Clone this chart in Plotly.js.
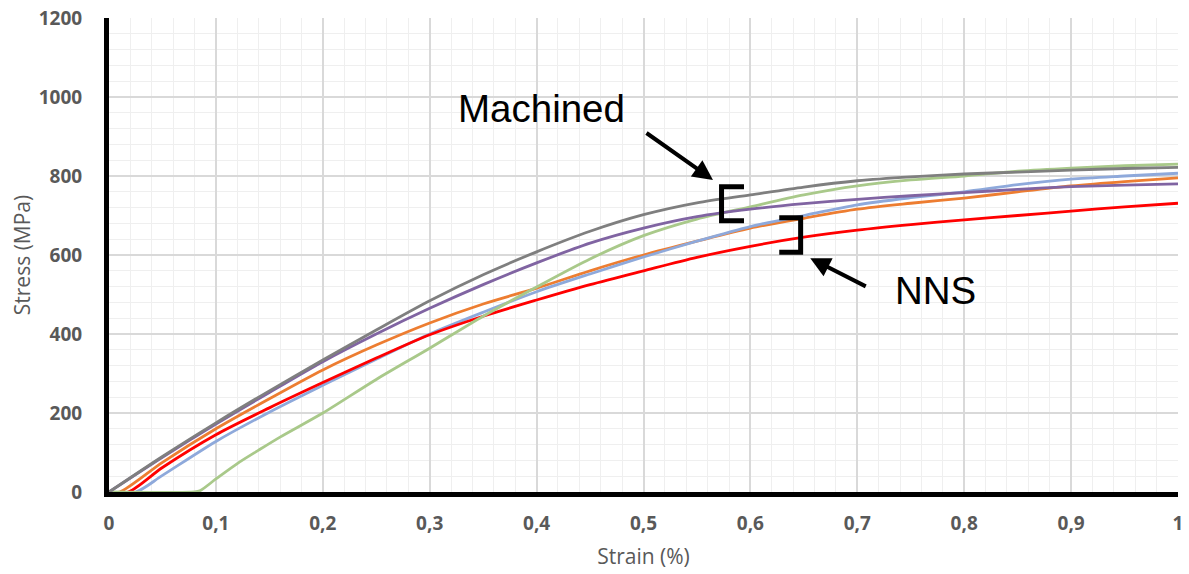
<!DOCTYPE html>
<html>
<head>
<meta charset="utf-8">
<script src="https://cdn.plot.ly/plotly-3.0.1.min.js"></script>
<style>html,body{margin:0;padding:0;background:#fff;}#chart{width:1189px;height:574px;}</style>
</head>
<body>
<div id="chart"></div>
<script>
// ---- Data ----
const grayStrain   = [0, 0.05, 0.1, 0.15, 0.2, 0.25, 0.3, 0.35, 0.4, 0.45, 0.5, 0.55, 0.6, 0.65, 0.7, 0.75, 0.8, 0.85, 0.9, 0.95, 1.0];
const grayStress   = [0, 90, 175, 256, 334, 410, 484, 550, 608, 660, 702, 732, 752, 772, 788, 798, 805, 810, 815, 819, 822];

const purpleStrain = [0, 0.05, 0.1, 0.15, 0.2, 0.25, 0.3, 0.35, 0.4, 0.45, 0.5, 0.55, 0.6, 0.65, 0.7, 0.75, 0.8, 0.85, 0.9, 0.95, 1.0];
const purpleStress = [0, 88, 172, 252, 330, 400, 465, 525, 580, 630, 668, 697, 716, 730, 741, 750, 758, 766, 773, 777, 780];

const greenStrain  = [0, 0.08, 0.085, 0.1, 0.12, 0.14, 0.16, 0.2, 0.25, 0.3, 0.35, 0.4, 0.45, 0.5, 0.55, 0.6, 0.65, 0.7, 0.75, 0.8, 0.85, 0.9, 0.95, 1.0];
const greenStress  = [0, 0, 3, 33, 72, 106, 139, 200, 285, 364, 445, 519, 590, 649, 691, 722, 752, 775, 790, 800, 812, 820, 826, 830];

const orangeStrain = [0, 0.01, 0.05, 0.1, 0.15, 0.2, 0.25, 0.3, 0.35, 0.4, 0.45, 0.5, 0.55, 0.6, 0.65, 0.7, 0.75, 0.8, 0.85, 0.9, 0.95, 1.0];
const orangeStress = [0, 0, 75, 160, 236, 309, 372, 428, 476, 516, 560, 600, 635, 668, 693, 716, 731, 744, 760, 775, 786, 795];

const blueStrain   = [0, 0.025, 0.05, 0.1, 0.15, 0.2, 0.25, 0.3, 0.35, 0.4, 0.45, 0.5, 0.55, 0.6, 0.65, 0.7, 0.75, 0.8, 0.85, 0.9, 0.95, 1.0];
const blueStress   = [0, 0, 42, 128, 202, 270, 336, 400, 455, 507, 552, 595, 635, 672, 700, 727, 745, 760, 778, 792, 800, 807];

const redStrain    = [0, 0.018, 0.05, 0.1, 0.15, 0.2, 0.25, 0.3, 0.35, 0.4, 0.45, 0.5, 0.55, 0.6, 0.65, 0.7, 0.75, 0.8, 0.85, 0.9, 0.95, 1.0];
const redStress    = [0, 0, 62, 145, 213, 277, 339, 398, 445, 486, 525, 560, 594, 622, 645, 663, 677, 689, 700, 711, 722, 731];

const xTickVals = [0, 0.1, 0.2, 0.3, 0.4, 0.5, 0.6, 0.7, 0.8, 0.9, 1];
const xTickText = ["0", "0,1", "0,2", "0,3", "0,4", "0,5", "0,6", "0,7", "0,8", "0,9", "1"];
const yTickVals = [0, 200, 400, 600, 800, 1000, 1200];
const yTickText = ["0", "200", "400", "600", "800", "1000", "1200"];

// ---- Traces ----
function tr(x, y, color) {
  return {x: x, y: y, type: 'scatter', mode: 'lines',
          line: {color: color, width: 2.8, shape: 'spline', smoothing: 0.8},
          hoverinfo: 'skip', showlegend: false};
}
const traces = [
  tr(orangeStrain, orangeStress, '#ED7D31'),
  tr(blueStrain, blueStress, '#8EA9DB'),
  tr(redStrain, redStress, '#FF0000'),
  tr(greenStrain, greenStress, '#A9C98A'),
  tr(purpleStrain, purpleStress, '#8064A2'),
  tr(grayStrain, grayStress, '#7F7F7F')
];

const tickFont = {family: 'Open Sans, sans-serif', size: 19, color: '#595959', weight: 'bold'};
const titleFont = {family: 'Open Sans, sans-serif', size: 21, color: '#595959'};

const layout = {
  width: 1189, height: 574,
  margin: {l: 109, r: 11, t: 18, b: 82, pad: 0},
  paper_bgcolor: '#ffffff', plot_bgcolor: '#ffffff',
  showlegend: false,
  xaxis: {
    range: [0, 1], fixedrange: true,
    tickvals: xTickVals, ticktext: xTickText,
    tickfont: tickFont, ticks: '', ticklabelstandoff: 10,
    showgrid: true, gridcolor: '#D9D9D9', gridwidth: 2,
    minor: {tickmode: 'linear', tick0: 0, dtick: 0.02, showgrid: true, gridcolor: '#EFEFEF', gridwidth: 1, ticks: ''},
    showline: true, linecolor: '#000000', linewidth: 5,
    zeroline: false,
    title: {text: 'Strain (%)', font: titleFont, standoff: 16}
  },
  yaxis: {
    range: [0, 1200], fixedrange: true,
    tickvals: yTickVals, ticktext: yTickText,
    tickfont: tickFont, ticks: '', ticklabelstandoff: 18,
    showgrid: true, gridcolor: '#D9D9D9', gridwidth: 2,
    minor: {tickmode: 'linear', tick0: 0, dtick: 40, showgrid: true, gridcolor: '#EFEFEF', gridwidth: 1, ticks: ''},
    showline: true, linecolor: '#000000', linewidth: 5,
    zeroline: false,
    title: {text: 'Stress (MPa)', font: titleFont, standoff: 4}
  },
  shapes: [
    {type: 'path', xref: 'x', yref: 'y', path: 'M 0.594,773 L 0.573,773 L 0.573,687 L 0.594,687', line: {color: '#000000', width: 5}},
    {type: 'path', xref: 'x', yref: 'y', path: 'M 0.627,694 L 0.647,694 L 0.647,607 L 0.627,607', line: {color: '#000000', width: 5}}
  ],
  annotations: [
    {x: 0.4046, y: 971, xref: 'x', yref: 'y', text: 'Machined', showarrow: false,
     font: {family: 'Liberation Sans, Arial, sans-serif', size: 38.5, color: '#000000'}},
    {x: 0.7727, y: 509, xref: 'x', yref: 'y', text: 'NNS', showarrow: false,
     font: {family: 'Liberation Sans, Arial, sans-serif', size: 38.5, color: '#000000'}},
    {x: 0.565, y: 790, xref: 'x', yref: 'y', text: '', showarrow: true,
     ax: -68, ay: -48, arrowhead: 2, arrowsize: 1, arrowwidth: 4, arrowcolor: '#000000'},
    {x: 0.656, y: 592, xref: 'x', yref: 'y', text: '', showarrow: true,
     ax: 57, ay: 29, arrowhead: 2, arrowsize: 1, arrowwidth: 4, arrowcolor: '#000000'}
  ]
};

Plotly.newPlot('chart', traces, layout, {staticPlot: true, displayModeBar: false});
</script>
</body>
</html>
